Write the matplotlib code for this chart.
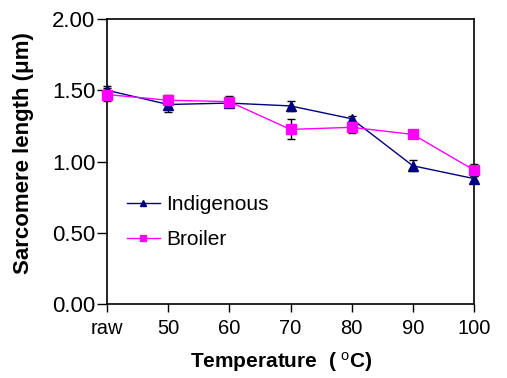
import matplotlib
matplotlib.use("Agg")
import matplotlib.pyplot as plt
from matplotlib.lines import Line2D

categories = ["raw", "50", "60", "70", "80", "90", "100"]
indigenous = [1.50, 1.40, 1.41, 1.39, 1.30, 0.97, 0.88]
indigenous_err = [0.03, 0.05, 0.03, 0.035, 0.02, 0.04, 0.02]
broiler = [1.47, 1.43, 1.42, 1.225, 1.24, 1.19, 0.94]
broiler_err = [0.045, 0.035, 0.04, 0.07, 0.04, 0.02, 0.045]

plt.rcParams['font.family'] = ['Liberation Sans', 'DejaVu Sans']
plt.rcParams['mathtext.fontset'] = 'custom'
plt.rcParams['mathtext.rm'] = 'Liberation Sans'
plt.rcParams['mathtext.it'] = 'Liberation Sans'
plt.rcParams['mathtext.bf'] = 'Liberation Sans:bold'

navy = '#000080'
magenta = '#ff00ff'

fig = plt.figure(figsize=(5.07, 3.78), dpi=100)
ax = fig.add_axes([107/507, 1-304/378, 367/507, 285/378])
x = list(range(len(categories)))

for vals, errs, col, mk in [(indigenous, indigenous_err, navy, '^'),
                            (broiler, broiler_err, magenta, 's')]:
    cont = ax.errorbar(x, vals, yerr=errs, color=col, marker=mk,
                       markersize=7.5, linewidth=1, ecolor='black', elinewidth=1,
                       capsize=3, capthick=1, zorder=3)
    for art in [cont.lines[0], *cont.lines[1], *cont.lines[2]]:
        art.set_clip_on(False)

ax.set_xlim(0, 6)
ax.set_ylim(0, 2.0)
ax.set_xticks(x)
ax.set_xticklabels(categories)
ax.set_yticks([0, 0.5, 1.0, 1.5, 2.0])
ax.set_yticklabels(["0.00", "0.50", "1.00", "1.50", "2.00"])
ax.tick_params(axis='y', direction='out', labelsize=16, length=7.5, width=1, pad=1)
ax.tick_params(axis='x', direction='out', labelsize=14.5, length=6, width=1, pad=5)
for s in ax.spines.values():
    s.set_linewidth(1.2)

ax.set_ylabel('Sarcomere length (μm)', fontsize=16, fontweight='bold')
ax.yaxis.set_label_coords(-0.20, 0.53)
ax.set_xlabel(r'Temperature  ( $^{\mathrm{o}}$C)', fontsize=15, fontweight='bold')
ax.xaxis.set_label_coords(0.475, -0.16)

handles = [Line2D([], [], color=navy, marker='^', markersize=5, linewidth=1),
           Line2D([], [], color=magenta, marker='s', markersize=5, linewidth=1)]
ax.legend(handles, ['Indigenous', 'Broiler'], loc='center left',
          bbox_to_anchor=(0.054, 0.287), frameon=False, borderaxespad=0,
          borderpad=0, fontsize=15, handlelength=1.6, handletextpad=0.3,
          labelspacing=0.75)

fig.savefig('out.png', dpi=100)
